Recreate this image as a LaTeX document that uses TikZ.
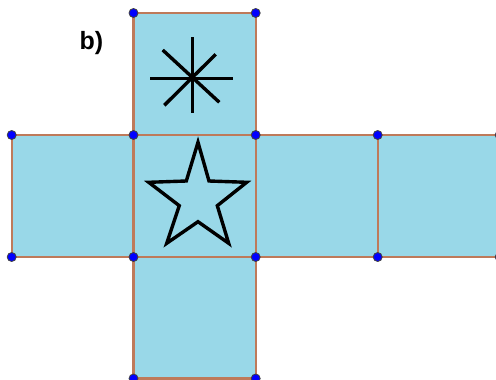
\documentclass[tikz,border=0pt]{standalone}
\usepackage{fontspec}
\setmainfont{Liberation Sans}
\definecolor{netfill}{RGB}{153,216,232}
\definecolor{netedge}{RGB}{190,122,90}
\definecolor{dotblue}{RGB}{0,0,255}
\begin{document}
\begin{tikzpicture}[x=1pt,y=-1pt,
  face/.style={fill=netfill},
  edge/.style={draw=netedge,line width=2.4pt},
  vtx/.style={circle,fill=dotblue,draw=black!75,line width=0.8pt,inner sep=0pt,minimum size=9pt},
  glyph/.style={draw=black,line width=3.4pt,line join=miter}]
\useasboundingbox (0,0) rectangle (496,380);
\clip (0,0) rectangle (496,380);
% grid coordinates
\coordinate (t1) at (133.5,13);  \coordinate (t2) at (255.7,13);
\coordinate (a0) at (11.7,135);  \coordinate (a1) at (133.5,135); \coordinate (a2) at (255.7,135); \coordinate (a3) at (377.7,135); \coordinate (a4) at (499.7,135);
\coordinate (b0) at (11.7,257);  \coordinate (b1) at (133.5,257); \coordinate (b2) at (255.7,257); \coordinate (b3) at (377.7,257); \coordinate (b4) at (499.7,257);
\coordinate (u1) at (133.5,378.5); \coordinate (u2) at (255.7,378.5);
% faces
\fill[face] (t1) rectangle (a2);
\fill[face] (a0) rectangle (b4);
\fill[face] (b1) rectangle (u2);
% edges
\draw[edge] (t1) -- (t2) -- (a2) -- (a1) -- cycle;
\draw[edge] (a0) -- (a4);
\draw[edge] (b0) -- (b4);
\draw[edge] (a0) -- (b0);
\draw[edge] (a1) -- (b1);
\draw[edge] (a2) -- (b2);
\draw[edge] (a3) -- (b3);
\draw[edge] (b1) -- (u1) -- (u2) -- (b2);
% asterisk
\draw[glyph,line cap=butt] (192.7,37.3) -- (192.7,112.7);
\draw[glyph,line cap=butt] (150,78.3) -- (233.3,78.3);
\draw[glyph,line cap=butt] (162.7,50) -- (219.3,102.3);
\draw[glyph,line cap=butt] (215.7,54.3) -- (164.3,105.3);
% star
\draw[glyph] (198,142.3) -- (209,181) -- (246.7,182.3) -- (217.3,205.7) -- (228.7,243.3)
  -- (198,221.7) -- (166.7,243.3) -- (179.3,205.7) -- (148.7,182.3) -- (186.3,181) -- cycle;
% vertices
\foreach \p in {t1,t2,a0,a1,a2,a3,a4,b0,b1,b2,b3,b4,u1,u2}
  \node[vtx] (v\p) at (\p) {};
% label
\node[font=\bfseries\fontsize{25}{30}\selectfont,inner sep=0pt] (lab) at (91.5,43) {b)};
\end{tikzpicture}
\end{document}
